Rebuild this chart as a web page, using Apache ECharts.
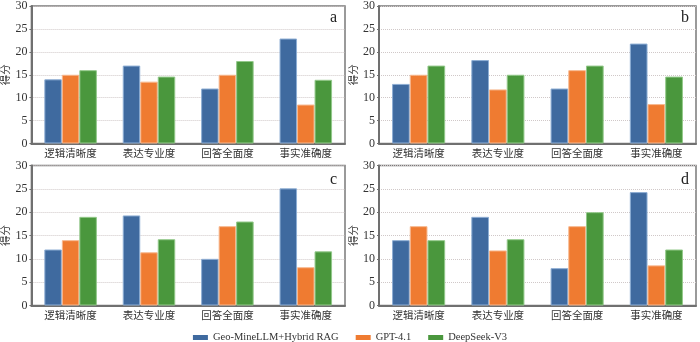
<!DOCTYPE html>
<html><head><meta charset="utf-8">
<script src="https://cdn.jsdelivr.net/npm/echarts@6/dist/echarts.min.js"></script>
<style>html,body{margin:0;padding:0;background:#fff}#c{width:700px;height:342px}</style>
</head><body><div id="c"></div>
<script>
var categories = ['逻辑清晰度','表达专业度','回答全面度','事实准确度'];
var seriesNames = ['Geo-MineLLM+Hybrid RAG','GPT-4.1','DeepSeek-V3'];
var panelLabels = ['a','b','c','d'];
var yTicks = [0,5,10,15,20,25,30];
// panel a
var aGeo = [14, 17, 12, 22.9];
var aGpt = [15, 13.5, 15, 8.5];
var aDs  = [16, 14.6, 18, 13.9];
// panel b
var bGeo = [13, 18.2, 12, 21.8];
var bGpt = [15, 11.8, 16, 8.6];
var bDs  = [17, 15, 17, 14.6];
// panel c
var cGeo = [12, 19.3, 10, 25.1];
var cGpt = [14, 11.4, 17, 8.2];
var cDs  = [19, 14.2, 18, 11.6];
// panel d
var dGeo = [14, 19, 8, 24.3];
var dGpt = [17, 11.8, 17, 8.6];
var dDs  = [14, 14.2, 20, 12];

var panels = [[aGeo,aGpt,aDs],[bGeo,bGpt,bDs],[cGeo,cGpt,cDs],[dGeo,dGpt,dDs]];
var colors = ['#3f6a9f','#ef7b31','#4a973d'];
var borders = ['#8eaed4','#f7b88f','#93c98a'];
var gridPos = [
  {left:29, top:3.5, width:316, height:140},
  {left:379, top:3.5, width:317, height:140},
  {left:29, top:165.5, width:316, height:140},
  {left:379, top:165.5, width:317, height:140}
];
var serif = '"Liberation Serif","Times New Roman",serif';
var cjk = '"Liberation Serif","Noto Sans CJK SC",serif';

var grids=[], xAxes=[], yAxes=[], series=[], graphics=[];
gridPos.forEach(function(g,i){
  grids.push({left:g.left, top:g.top, width:g.width, height:g.height, show:true, borderColor:'#7a7a7a', borderWidth:1.5, containLabel:false});
  xAxes.push({type:'category', gridIndex:i, data:categories,
    axisLine:{show:true, lineStyle:{color:'#707070', width:2}}, axisTick:{show:false},
    axisLabel:{fontFamily:cjk, fontSize:10.5, color:'#333', margin:6}});
  yAxes.push({type:'value', gridIndex:i, min:0, max:30, interval:5,
    name:'得分', nameLocation:'middle', nameGap:17, nameRotate:90,
    nameTextStyle:{fontFamily:cjk, fontSize:10.5, color:'#333'},
    axisLine:{show:true, lineStyle:{color:'#707070', width:2}},
    axisTick:{show:true, inside:false, length:2, lineStyle:{color:'#707070'}},
    axisLabel:{fontFamily:serif, fontSize:12, color:'#333', margin:4},
    splitLine:{show:true, lineStyle:{color:'#d0c8c8', type:'dotted', width:1}}});
  panels[i].forEach(function(arr,k){
    series.push({type:'bar', name:seriesNames[k], xAxisIndex:i, yAxisIndex:i, data:arr,
      barGap:'0%', barCategoryGap:'33%',
      itemStyle:{color:colors[k], borderColor:borders[k], borderWidth:1}});
  });
  graphics.push({type:'text', left:g.left+g.width-15, top:g.top+6,
    style:{text:panelLabels[i], font:'16px '+serif, fill:'#222'}});
});

var chart = echarts.init(document.getElementById('c'));
chart.setOption({
  animation:false,
  color:colors,
  legend:{data:seriesNames, bottom:-6, left:'center', itemWidth:15, itemHeight:5, itemGap:17,
    itemStyle:{borderWidth:0},
    textStyle:{fontFamily:serif, fontSize:10.5, color:'#333'}, icon:'rect'},
  grid:grids, xAxis:xAxes, yAxis:yAxes, series:series, graphic:graphics
});
</script></body></html>
